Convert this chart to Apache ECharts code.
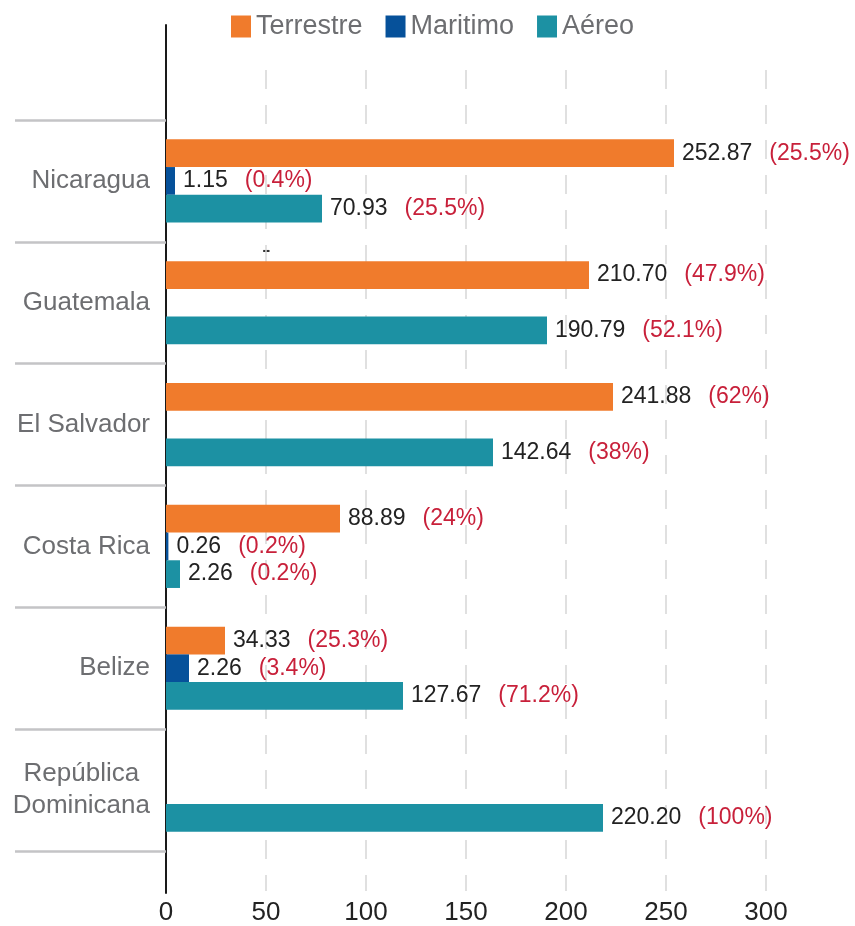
<!DOCTYPE html>
<html>
<head>
<meta charset="utf-8">
<script src="https://cdn.jsdelivr.net/npm/echarts@6/dist/echarts.min.js"></script>
<style>
  html, body { margin: 0; padding: 0; background: #fff; }
  #chart { width: 855px; height: 926px; }
</style>
</head>
<body>
<div id="chart"></div>
<script>
const categories = ['Nicaragua', 'Guatemala', 'El Salvador', 'Costa Rica', 'Belize', 'República\nDominicana']
const xTicks = [0, 50, 100, 150, 200, 250, 300]

// bar lengths as drawn in the picture
const terrestre = [254, 211.5, 223.5, 87, 29.5, null]
const maritimo = [4.5, null, null, 1.2, 11.5, null]
const aereo = [78, 190.5, 163.5, 7, 118.5, 218.5]

// label texts printed next to the bars
const terrestreText = ['252.87', '210.70', '241.88', '88.89', '34.33', null]
const terrestrePct = ['(25.5%)', '(47.9%)', '(62%)', '(24%)', '(25.3%)', null]
const maritimoText = ['1.15', null, null, '0.26', '2.26', null]
const maritimoPct = ['(0.4%)', null, null, '(0.2%)', '(3.4%)', null]
const aereoText = ['70.93', '190.79', '142.64', '2.26', '127.67', '220.20']
const aereoPct = ['(25.5%)', '(52.1%)', '(38%)', '(0.2%)', '(71.2%)', '(100%)']

const font = "'Liberation Sans', Arial, Helvetica, sans-serif"

const barLabel = (texts, pcts) => ({
  show: true,
  position: 'right',
  distance: 8,
  fontFamily: font,
  formatter: p => '{v|' + texts[p.dataIndex] + '}{p|' + pcts[p.dataIndex] + '}',
  rich: {
    v: { fontSize: 23, color: '#222', fontFamily: font },
    p: { fontSize: 23, color: '#c8203a', fontFamily: font, padding: [0, 0, 0, 17] }
  }
})

const makeSeries = (name, data, color, texts, pcts) => ({
  name: name,
  type: 'bar',
  xAxisIndex: 0,
  yAxisIndex: 0,
  barWidth: 27.7,
  barGap: '0%',
  data: data,
  itemStyle: { color: color },
  label: barLabel(texts, pcts)
})

const chart = echarts.init(document.getElementById('chart'))
chart.setOption({
  animation: false,
  legend: {
    left: 226,
    top: 8,
    icon: 'rect',
    itemWidth: 20,
    itemHeight: 22,
    itemGap: 23,
    data: ['Terrestre', 'Maritimo', 'Aéreo'],
    textStyle: { fontSize: 27, color: '#6d6e71', fontFamily: font }
  },
  grid: [
    { left: 166, width: 600, top: 120, height: 731 },
    { left: 166, width: 600, top: 70, height: 823 },
    { left: 166, width: 600, top: 25, height: 868 }
  ],
  xAxis: [
    { gridIndex: 0, type: 'value', min: 0, max: 300, show: false },
    {
      gridIndex: 1,
      type: 'value',
      min: 0,
      max: 300,
      interval: 50,
      axisLine: { show: false },
      axisTick: { show: false },
      axisLabel: {
        fontSize: 26,
        color: '#222',
        margin: 9,
        fontFamily: font,
        formatter: v => (xTicks.indexOf(v) >= 0 ? String(v) : '')
      },
      splitLine: { show: true, lineStyle: { type: [19, 16], color: '#d6d6d6', width: 1.5 } }
    },
    { gridIndex: 2, type: 'value', min: 0, max: 300, show: false }
  ],
  yAxis: [
    {
      gridIndex: 0,
      type: 'category',
      inverse: true,
      data: categories,
      axisLine: { show: false },
      axisTick: { show: true, length: 151, lineStyle: { color: '#c4c4c6', width: 2.5 } },
      splitLine: { show: false },
      axisLabel: {
        fontSize: 26,
        color: '#6d6e71',
        margin: 16,
        fontFamily: font,
        formatter: v => (v.indexOf('\n') >= 0 ? v.split('\n').map(s => '{c|' + s + '}').join('\n') : v),
        rich: {
          c: { align: 'center', fontSize: 26, color: '#6d6e71', lineHeight: 32, fontFamily: font }
        }
      }
    },
    { gridIndex: 1, type: 'value', show: false },
    {
      gridIndex: 2,
      type: 'value',
      axisLine: { show: true, onZero: false, lineStyle: { color: '#1a1a1a', width: 2 } },
      axisTick: { show: false },
      axisLabel: { show: false },
      splitLine: { show: false }
    }
  ],
  graphic: [
    {
      type: 'text',
      left: 262,
      top: 238,
      style: { text: '-', fontSize: 26, fill: '#333', fontFamily: font }
    }
  ],
  series: [
    makeSeries('Terrestre', terrestre, '#f07b2c', terrestreText, terrestrePct),
    makeSeries('Maritimo', maritimo, '#06519a', maritimoText, maritimoPct),
    makeSeries('Aéreo', aereo, '#1c91a3', aereoText, aereoPct)
  ]
})
</script>
</body>
</html>
